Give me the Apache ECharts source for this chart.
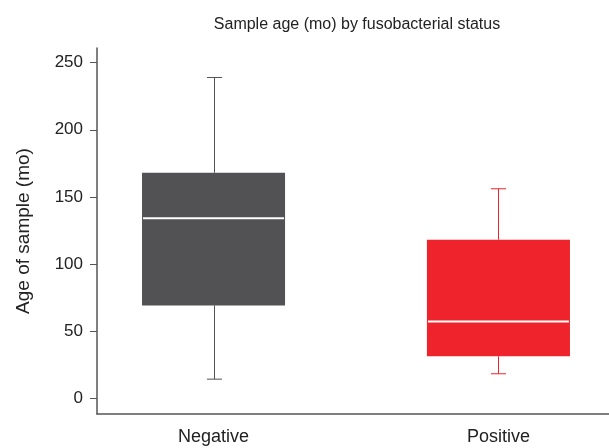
<!DOCTYPE html>
<html lang="en">
<head>
    <meta charset="UTF-8">
    <title>boxplot</title>
    <script src="https://cdn.jsdelivr.net/npm/echarts@6/dist/echarts.min.js"></script>
    <style>
        html, body { margin: 0; padding: 0; background: #fff; }
    </style>
</head>
<body>
<div id="main" style="width: 609px;height:448px;"></div>

<script type="text/javascript">
    // groups and their box statistics (months)
    var groups = ['Negative', 'Positive'];
    var groupPos = [1, 2];
    var mins = [14, 18];
    var q1s = [69, 31];
    var medians = [134, 57];
    var q3s = [168, 118];
    var maxs = [239, 156];
    var colors = ['#525254', '#ef232b'];
    var yTicks = [0, 50, 100, 150, 200, 250];

    var boxData = groups.map(function (g, i) {
        return [groupPos[i], mins[i], q1s[i], medians[i], q3s[i], maxs[i]];
    });

    var myChart = echarts.init(document.getElementById('main'));

    var font = '"Liberation Sans", Arial, sans-serif';

    function renderBox(params, api) {
        var i = params.dataIndex;
        var x = api.value(0);
        var pMin = api.coord([x, api.value(1)]);
        var pQ1 = api.coord([x, api.value(2)]);
        var pMed = api.coord([x, api.value(3)]);
        var pQ3 = api.coord([x, api.value(4)]);
        var pMax = api.coord([x, api.value(5)]);
        var boxW = api.size([0.502, 0])[0];
        var capW = api.size([0.053, 0])[0];
        var c = colors[i];
        var cx = Math.round(pMed[0]) + 0.5;
        return {
            type: 'group',
            children: [
                { type: 'line', shape: { x1: cx, y1: pMax[1], x2: cx, y2: pQ3[1] }, style: { stroke: c, lineWidth: 1 } },
                { type: 'line', shape: { x1: cx, y1: pQ1[1], x2: cx, y2: pMin[1] }, style: { stroke: c, lineWidth: 1 } },
                { type: 'line', shape: { x1: cx - capW / 2, y1: pMax[1], x2: cx + capW / 2, y2: pMax[1] }, style: { stroke: c, lineWidth: 1 } },
                { type: 'line', shape: { x1: cx - capW / 2, y1: pMin[1], x2: cx + capW / 2, y2: pMin[1] }, style: { stroke: c, lineWidth: 1 } },
                { type: 'rect', shape: { x: pQ3[0] - boxW / 2, y: pQ3[1], width: boxW, height: pQ1[1] - pQ3[1] }, style: { fill: c } },
                { type: 'line', shape: { x1: pMed[0] - boxW / 2 + 1, y1: pMed[1], x2: pMed[0] + boxW / 2 - 1, y2: pMed[1] }, style: { stroke: '#ffffff', lineWidth: 2 } }
            ]
        };
    }

    var option = {
        animation: false,
        title: {
            text: 'Sample age (mo) by fusobacterial status',
            left: 352,
            textAlign: 'center',
            top: 12,
            textStyle: { fontFamily: font, fontSize: 16, fontWeight: 'normal', color: '#222' }
        },
        grid: { left: 97, right: 0, top: 48, bottom: 34 },
        xAxis: {
            type: 'value',
            min: 0.591,
            max: 2.388,
            splitLine: { show: false },
            axisLine: { show: true, onZero: false, lineStyle: { color: '#555', width: 1.5 } },
            axisTick: { show: false },
            axisLabel: {
                customValues: groupPos,
                formatter: function (v) { return groups[groupPos.indexOf(v)] || ''; },
                fontFamily: font, fontSize: 18, color: '#222', margin: 14
            }
        },
        yAxis: {
            type: 'value',
            min: -12,
            max: 261,
            name: 'Age of sample (mo)',
            nameLocation: 'middle',
            nameGap: 64,
            nameTextStyle: { fontFamily: font, fontSize: 19, color: '#222' },
            splitLine: { show: false },
            axisLine: { show: true, onZero: false, lineStyle: { color: '#555', width: 1.5 } },
            axisTick: { show: true, customValues: yTicks, length: 7, lineStyle: { color: '#555' } },
            axisLabel: { customValues: yTicks, fontFamily: font, fontSize: 17, color: '#222', margin: 14 }
        },
        series: [{
            type: 'custom',
            renderItem: renderBox,
            encode: { x: 0, y: [1, 2, 3, 4, 5] },
            data: boxData
        }]
    };

    myChart.setOption(option);
</script>

</body>
</html>
